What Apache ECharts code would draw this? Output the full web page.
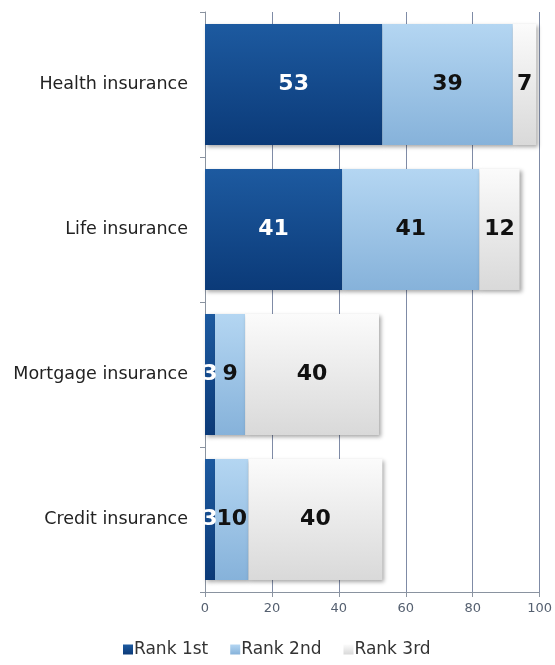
<!DOCTYPE html>
<html>
<head>
<meta charset="utf-8">
<script src="https://cdn.jsdelivr.net/npm/echarts@6/dist/echarts.min.js"></script>
<style>
  html, body { margin: 0; padding: 0; background: #ffffff; }
  #chart { width: 555px; height: 665px; }
</style>
</head>
<body>
<div id="chart"></div>
<script>
// Insurance types, top to bottom
const categories = ['Health insurance', 'Life insurance', 'Mortgage insurance', 'Credit insurance'];
// Share of respondents ranking each type 1st / 2nd / 3rd (%)
const rank1st = [53, 41, 3, 3];
const rank2nd = [39, 41, 9, 10];
const rank3rd = [7, 12, 40, 40];
const xTicks = [0, 20, 40, 60, 80, 100];

function vgrad(top, bottom) {
  return new echarts.graphic.LinearGradient(0, 0, 0, 1, [
    { offset: 0, color: top },
    { offset: 1, color: bottom }
  ]);
}

const shadow = {
  shadowBlur: 4,
  shadowOffsetX: 2,
  shadowOffsetY: 2,
  shadowColor: 'rgba(0,0,0,0.35)'
};

const labelFont = {
  show: true,
  position: 'inside',
  fontFamily: 'DejaVu Sans',
  fontWeight: 'bold',
  fontSize: 22
};

const chart = echarts.init(document.getElementById('chart'));
chart.setOption({
  animation: false,
  backgroundColor: '#ffffff',
  grid: { left: 205, right: 15, top: 12, bottom: 73 },
  legend: {
    bottom: 2,
    left: 118,
    itemWidth: 10,
    itemHeight: 10,
    itemGap: 22,
    icon: 'rect',
    textStyle: { fontFamily: 'DejaVu Sans', fontSize: 17, color: '#333', padding: [0, 0, 0, -4] },
    data: ['Rank 1st', 'Rank 2nd', 'Rank 3rd']
  },
  xAxis: {
    type: 'value',
    min: 0,
    max: 100,
    interval: 20,
    axisLine: { show: true, lineStyle: { color: '#8a93a0' } },
    axisTick: { show: true, length: 5, lineStyle: { color: '#8a93a0' } },
    axisLabel: {
      fontFamily: 'DejaVu Sans', fontSize: 13, color: '#556070', margin: 10,
      formatter: v => (xTicks.indexOf(v) >= 0 ? String(v) : '')
    },
    splitLine: { show: true, lineStyle: { color: '#7f8ba6', width: 1 } }
  },
  yAxis: {
    type: 'category',
    inverse: true,
    data: categories,
    axisLine: { show: true, lineStyle: { color: '#8a93a0' } },
    axisTick: { show: true, length: 5, lineStyle: { color: '#8a93a0' } },
    axisLabel: { fontFamily: 'DejaVu Sans', fontSize: 17.5, color: '#222', margin: 17 }
  },
  series: [
    {
      name: 'Rank 1st', type: 'bar', stack: 'rank', barCategoryGap: '16.5%',
      data: rank1st,
      itemStyle: Object.assign({ color: vgrad('#1d5aa0', '#0b3a78') }, shadow),
      label: Object.assign({ color: '#ffffff' }, labelFont)
    },
    {
      name: 'Rank 2nd', type: 'bar', stack: 'rank', barCategoryGap: '16.5%',
      data: rank2nd,
      itemStyle: Object.assign({ color: vgrad('#b4d6f2', '#86b2da') }, shadow),
      label: Object.assign({ color: '#111111' }, labelFont)
    },
    {
      name: 'Rank 3rd', type: 'bar', stack: 'rank', barCategoryGap: '16.5%',
      data: rank3rd,
      itemStyle: Object.assign({ color: vgrad('#fbfbfb', '#d9d9d9') }, shadow),
      label: Object.assign({ color: '#111111' }, labelFont)
    }
  ]
});
</script>
</body>
</html>
